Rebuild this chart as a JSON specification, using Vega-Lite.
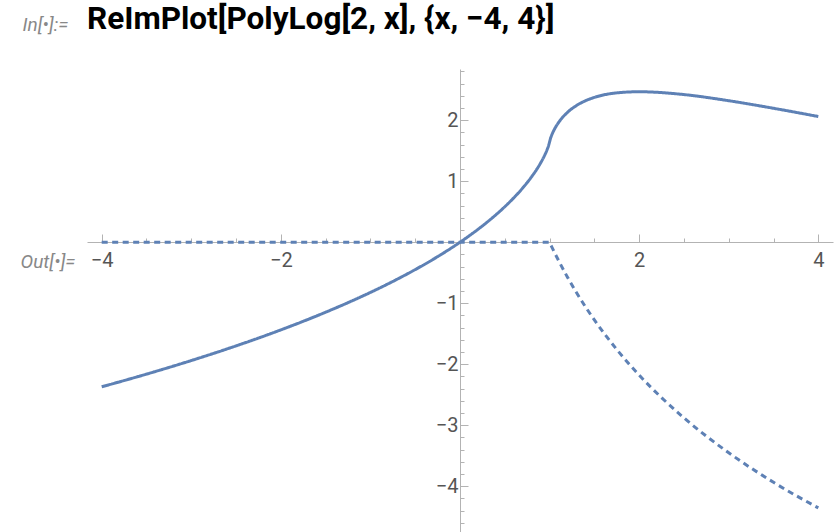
{
  "$schema": "https://vega.github.io/schema/vega-lite/v6.json",
  "width": 746,
  "height": 463,
  "autosize": {"type": "none"},
  "padding": {"left": 87, "top": 69, "right": 3, "bottom": 0},
  "background": "white",
  "config": {"view": {"stroke": null}, "font": "Roboto"},
  "title": {
    "text": "ReImPlot[PolyLog[2, x], {x, −4, 4}]",
    "anchor": "start",
    "frame": "group",
    "fontSize": 31.5,
    "fontWeight": "bold",
    "font": "Roboto",
    "color": "#000000",
    "baseline": "bottom",
    "offset": -52
  },
  "data": {
    "values": [
      {"x": -4, "v": -2.36994, "part": "Re"},
      {"x": -3.5, "v": -2.162097, "part": "Re"},
      {"x": -3, "v": -1.939375, "part": "Re"},
      {"x": -2.5, "v": -1.698896, "part": "Re"},
      {"x": -2, "v": -1.436747, "part": "Re"},
      {"x": -1.5, "v": -1.147382, "part": "Re"},
      {"x": -1.25, "v": -0.98985, "part": "Re"},
      {"x": -1, "v": -0.822467, "part": "Re"},
      {"x": -0.75, "v": -0.642761, "part": "Re"},
      {"x": -0.5, "v": -0.448414, "part": "Re"},
      {"x": -0.25, "v": -0.2359, "part": "Re"},
      {"x": 0, "v": 0, "part": "Re"},
      {"x": 0.1, "v": 0.102618, "part": "Re"},
      {"x": 0.2, "v": 0.211004, "part": "Re"},
      {"x": 0.3, "v": 0.326129, "part": "Re"},
      {"x": 0.4, "v": 0.449283, "part": "Re"},
      {"x": 0.5, "v": 0.582241, "part": "Re"},
      {"x": 0.6, "v": 0.727586, "part": "Re"},
      {"x": 0.7, "v": 0.889378, "part": "Re"},
      {"x": 0.8, "v": 1.074794, "part": "Re"},
      {"x": 0.9, "v": 1.299714, "part": "Re"},
      {"x": 0.95, "v": 1.440634, "part": "Re"},
      {"x": 0.98, "v": 1.545799, "part": "Re"},
      {"x": 0.99, "v": 1.588625, "part": "Re"},
      {"x": 1, "v": 1.644934, "part": "Re"},
      {"x": 1.01, "v": 1.700731, "part": "Re"},
      {"x": 1.02, "v": 1.742305, "part": "Re"},
      {"x": 1.05, "v": 1.840484, "part": "Re"},
      {"x": 1.1, "v": 1.961999, "part": "Re"},
      {"x": 1.2, "v": 2.129168, "part": "Re"},
      {"x": 1.3, "v": 2.240891, "part": "Re"},
      {"x": 1.4, "v": 2.319073, "part": "Re"},
      {"x": 1.5, "v": 2.374395, "part": "Re"},
      {"x": 1.75, "v": 2.448682, "part": "Re"},
      {"x": 2, "v": 2.467401, "part": "Re"},
      {"x": 2.5, "v": 2.420791, "part": "Re"},
      {"x": 3, "v": 2.320181, "part": "Re"},
      {"x": 3.5, "v": 2.195934, "part": "Re"},
      {"x": 4, "v": 2.061309, "part": "Re"},
      {"x": -4, "v": 0, "part": "Im"},
      {"x": 1, "v": 0, "part": "Im"},
      {"x": 1.01, "v": -0.031259, "part": "Im"},
      {"x": 1.02, "v": -0.062213, "part": "Im"},
      {"x": 1.05, "v": -0.153278, "part": "Im"},
      {"x": 1.1, "v": -0.299426, "part": "Im"},
      {"x": 1.2, "v": -0.57278, "part": "Im"},
      {"x": 1.3, "v": -0.82424, "part": "Im"},
      {"x": 1.4, "v": -1.057058, "part": "Im"},
      {"x": 1.5, "v": -1.273806, "part": "Im"},
      {"x": 1.75, "v": -1.758093, "part": "Im"},
      {"x": 2, "v": -2.177586, "part": "Im"},
      {"x": 2.5, "v": -2.878608, "part": "Im"},
      {"x": 3, "v": -3.451392, "part": "Im"},
      {"x": 3.5, "v": -3.935671, "part": "Im"},
      {"x": 4, "v": -4.355172, "part": "Im"}
    ]
  },
  "mark": {"type": "line", "interpolate": "monotone", "color": "#5E81B5", "strokeWidth": 3, "clip": true},
  "encoding": {
    "x": {
      "field": "x",
      "type": "quantitative",
      "scale": {"domain": [-4.164, 4.164], "nice": false, "zero": false},
      "axis": {
        "orient": "bottom",
        "offset": -290,
        "values": [-4, -3.5, -3, -2.5, -2, -1.5, -1, -0.5, 0, 0.5, 1, 1.5, 2, 2.5, 3, 3.5, 4],
        "grid": false,
        "domainColor": "#b3b3b3",
        "domainWidth": 1,
        "tickColor": "#b3b3b3",
        "tickWidth": 1,
        "tickSize": {"condition": {"test": "datum.value % 2 === 0", "value": -8}, "value": -4},
        "labelExpr": "datum.value % 2 === 0 && datum.value !== 0 ? format(datum.value, 'd') : ''",
        "labelFont": "Roboto",
        "labelFontSize": 20,
        "labelColor": "#555555",
        "labelPadding": 16,
        "labelOverlap": false,
        "labelFlush": false,
        "labelBound": false,
        "title": "In[•]:=",
        "titleX": -65,
        "titleY": -218,
        "titleAlign": "left",
        "titleBaseline": "middle",
        "titleFont": "Roboto",
        "titleFontSize": 19,
        "titleFontStyle": "italic",
        "titleFontWeight": "normal",
        "titleColor": "#888888"
      }
    },
    "y": {
      "field": "v",
      "type": "quantitative",
      "scale": {"domain": [-4.75, 2.84], "nice": false, "zero": false},
      "axis": {
        "orient": "left",
        "offset": -373,
        "values": [-4.6, -4.4, -4.2, -4, -3.8, -3.6, -3.4, -3.2, -3, -2.8, -2.6, -2.4, -2.2, -2, -1.8, -1.6, -1.4, -1.2, -1, -0.8, -0.6, -0.4, -0.2, 0.2, 0.4, 0.6, 0.8, 1, 1.2, 1.4, 1.6, 1.8, 2, 2.2, 2.4, 2.6, 2.8],
        "grid": false,
        "domainColor": "#b3b3b3",
        "domainWidth": 1,
        "tickColor": "#b3b3b3",
        "tickWidth": 1,
        "tickSize": {"condition": {"test": "abs(datum.value - round(datum.value)) < 0.01", "value": -8}, "value": -4},
        "labelExpr": "abs(datum.value - round(datum.value)) < 0.01 && round(datum.value) !== 0 ? format(round(datum.value), 'd') : ''",
        "labelFont": "Roboto",
        "labelFontSize": 20,
        "labelColor": "#555555",
        "labelPadding": 10,
        "labelOverlap": false,
        "labelFlush": false,
        "labelBound": false,
        "title": "Out[•]=",
        "titleAngle": 0,
        "titleX": -440,
        "titleY": 192,
        "titleAlign": "left",
        "titleBaseline": "middle",
        "titleFont": "Roboto",
        "titleFontSize": 19,
        "titleFontStyle": "italic",
        "titleFontWeight": "normal",
        "titleColor": "#888888"
      }
    },
    "strokeDash": {
      "field": "part",
      "type": "nominal",
      "scale": {"domain": ["Re", "Im"], "range": [[1, 0], [6, 4.5]]},
      "legend": null
    }
  }
}
